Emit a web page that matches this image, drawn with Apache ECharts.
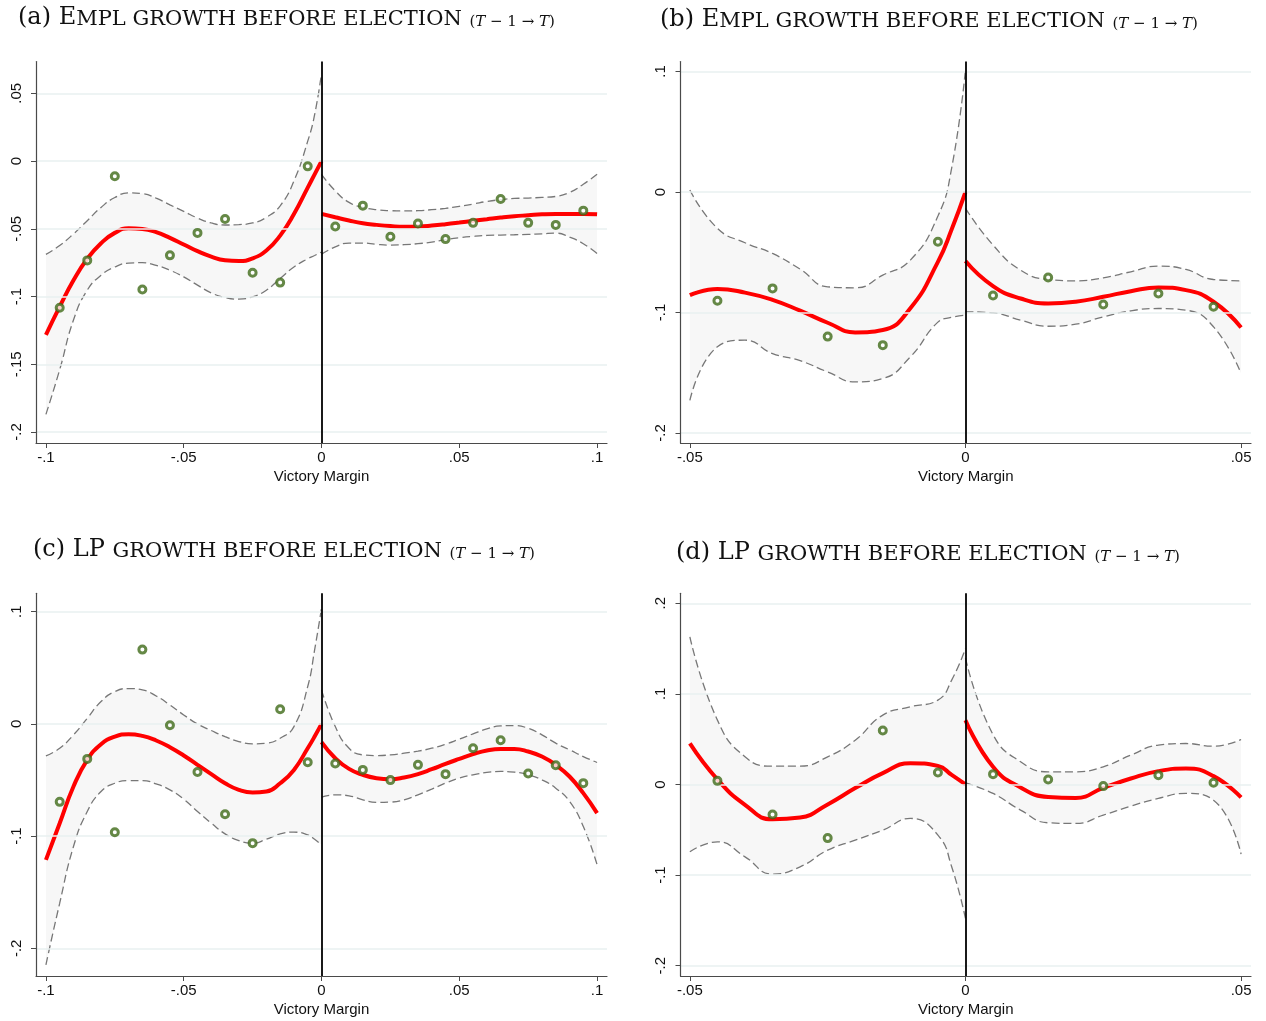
<!DOCTYPE html>
<html>
<head>
<meta charset="utf-8">
<script src="https://cdn.jsdelivr.net/npm/echarts@6/dist/echarts.min.js"></script>
<style>
  html, body { margin: 0; padding: 0; background: #fff; }
  #main { width: 1266px; height: 1021px; }
</style>
</head>
<body>
<div id="main"></div>
<script>
// x positions of the fitted curves and bins
var wideLeftX = [-0.1, -0.095, -0.09, -0.085, -0.08, -0.075, -0.07, -0.065, -0.06, -0.055, -0.05, -0.045, -0.04, -0.035, -0.03, -0.025, -0.02, -0.015, -0.01, -0.005, -0.0025, 0];
var wideRightX = [0, 0.005, 0.01, 0.015, 0.02, 0.025, 0.03, 0.035, 0.04, 0.045, 0.05, 0.055, 0.06, 0.065, 0.07, 0.075, 0.08, 0.085, 0.09, 0.095, 0.1];
var narrowLeftX = [-0.05, -0.045, -0.04, -0.035, -0.03, -0.025, -0.02, -0.015, -0.01, -0.005, -0.0025, 0];
var narrowRightX = [0, 0.005, 0.01, 0.015, 0.02, 0.025, 0.03, 0.035, 0.04, 0.045, 0.05];
var wideBins = [-0.095, -0.085, -0.075, -0.065, -0.055, -0.045, -0.035, -0.025, -0.015, -0.005, 0.005, 0.015, 0.025, 0.035, 0.045, 0.055, 0.065, 0.075, 0.085, 0.095];
var narrowBins = [-0.045, -0.035, -0.025, -0.015, -0.005, 0.005, 0.015, 0.025, 0.035, 0.045];

// tick labels
var wideXTicks = [-0.1, -0.05, 0, 0.05, 0.1];
var narrowXTicks = [-0.05, 0, 0.05];
var aYTicks = [-0.2, -0.15, -0.1, -0.05, 0, 0.05];
var bYTicks = [-0.2, -0.1, 0, 0.1];
var cYTicks = [-0.2, -0.1, 0, 0.1];
var dYTicks = [-0.2, -0.1, 0, 0.1, 0.2];

// (a) Empl growth, bandwidth .1
var aPoints = [-0.1083, -0.0733, -0.0112, -0.0948, -0.0696, -0.053, -0.0428, -0.0824, -0.0897, -0.0039, -0.0483, -0.0329, -0.0559, -0.0461, -0.0576, -0.0456, -0.028, -0.0456, -0.0471, -0.0366];
var aFitL = [-0.1283, -0.1075, -0.088, -0.0721, -0.0606, -0.053, -0.0496, -0.0501, -0.0525, -0.0567, -0.0616, -0.0665, -0.0705, -0.0732, -0.0738, -0.0718, -0.066, -0.055, -0.0391, -0.0196, -0.0098, 0];
var aHiL = [-0.0689, -0.0623, -0.0538, -0.044, -0.0342, -0.0269, -0.0235, -0.024, -0.0274, -0.0323, -0.0371, -0.042, -0.0457, -0.0472, -0.0469, -0.0457, -0.0415, -0.033, -0.0147, 0.0147, 0.0342, 0.0648];
var aLoL = [-0.187, -0.154, -0.1173, -0.0953, -0.0843, -0.0782, -0.0753, -0.075, -0.077, -0.0806, -0.0855, -0.0916, -0.0973, -0.1007, -0.1019, -0.1002, -0.0953, -0.0867, -0.0782, -0.0721, -0.0697, -0.0672];
var aFitR = [-0.039, -0.0415, -0.0439, -0.0459, -0.0471, -0.048, -0.0485, -0.0483, -0.0476, -0.0466, -0.0454, -0.0441, -0.0429, -0.0417, -0.0407, -0.04, -0.0393, -0.039, -0.039, -0.039, -0.0393];
var aHiR = [-0.0098, -0.022, -0.0305, -0.0341, -0.0359, -0.0366, -0.0368, -0.0366, -0.0359, -0.0349, -0.0334, -0.0317, -0.0298, -0.0285, -0.0276, -0.0273, -0.0268, -0.0261, -0.0232, -0.0171, -0.0098];
var aLoR = [-0.0688, -0.0634, -0.0605, -0.0605, -0.0615, -0.062, -0.0617, -0.061, -0.0598, -0.058, -0.0566, -0.0556, -0.0549, -0.0546, -0.0544, -0.0541, -0.0537, -0.0532, -0.0561, -0.061, -0.0683];

// (b) Empl growth, bandwidth .05
var bPoints = [-0.0903, -0.08, -0.12, -0.1271, -0.0413, -0.0859, -0.0709, -0.0934, -0.0842, -0.0953];
var bFitL = [-0.0856, -0.0805, -0.0835, -0.0895, -0.0985, -0.1085, -0.1165, -0.1145, -0.0965, -0.058, -0.031, 0];
var bHiL = [0.0017, -0.0302, -0.0421, -0.051, -0.064, -0.0787, -0.0795, -0.069, -0.0565, -0.02, 0.02, 0.1014];
var bLoL = [-0.1729, -0.1285, -0.123, -0.1341, -0.14, -0.1493, -0.1576, -0.1548, -0.1368, -0.108, -0.104, -0.1022];
var bFitR = [-0.0573, -0.0781, -0.0884, -0.0925, -0.0911, -0.087, -0.0823, -0.0792, -0.0814, -0.0911, -0.1125];
var bHiR = [-0.0136, -0.044, -0.0648, -0.0726, -0.0737, -0.0712, -0.0662, -0.0615, -0.0643, -0.0726, -0.0737];
var bLoR = [-0.0994, -0.1003, -0.1064, -0.1114, -0.1097, -0.1036, -0.0986, -0.0967, -0.0981, -0.1119, -0.1507];

// (c) LP growth, bandwidth .1
var cPoints = [-0.0695, -0.0312, -0.0965, 0.0662, -0.0012, -0.0428, -0.0805, -0.1063, 0.0131, -0.0342, -0.0353, -0.041, -0.0501, -0.0365, -0.0448, -0.0217, -0.0145, -0.0442, -0.0368, -0.0528];
var cFitL = [-0.1212, -0.0885, -0.0558, -0.0321, -0.0181, -0.0113, -0.0092, -0.0107, -0.0148, -0.0208, -0.0282, -0.0365, -0.0448, -0.0529, -0.0588, -0.0612, -0.0603, -0.0529, -0.041, -0.0217, -0.0113, 0];
var cHiL = [-0.0285, -0.0217, -0.0098, 0.005, 0.0199, 0.0288, 0.0315, 0.0303, 0.0249, 0.0169, 0.008, 0, -0.0059, -0.0113, -0.0157, -0.0178, -0.0172, -0.0128, -0.0024, 0.0333, 0.0659, 0.1031];
var cLoL = [-0.2147, -0.1598, -0.1093, -0.0781, -0.0603, -0.0529, -0.0505, -0.0505, -0.0535, -0.0588, -0.0671, -0.0781, -0.0885, -0.098, -0.104, -0.1063, -0.1028, -0.098, -0.0965, -0.0989, -0.1028, -0.1078];
var cFitR = [-0.0163, -0.0306, -0.0401, -0.0454, -0.0484, -0.0493, -0.0478, -0.0448, -0.0404, -0.0356, -0.0312, -0.027, -0.0237, -0.0223, -0.0223, -0.0246, -0.0291, -0.0365, -0.0469, -0.0617, -0.0795];
var cHiR = [0.0303, -0.0024, -0.0217, -0.0276, -0.0282, -0.0276, -0.0261, -0.0243, -0.0217, -0.0181, -0.0136, -0.0089, -0.0045, -0.0018, -0.0015, -0.0039, -0.0098, -0.0172, -0.0231, -0.0291, -0.0344];
var cLoR = [-0.0653, -0.0632, -0.0641, -0.0677, -0.07, -0.0697, -0.0677, -0.0632, -0.0582, -0.0528, -0.0484, -0.0454, -0.0433, -0.0424, -0.043, -0.0454, -0.0499, -0.0573, -0.0691, -0.0914, -0.1255];

// (d) LP growth, bandwidth .05
var dPoints = [0.004, -0.0331, -0.0592, 0.0596, 0.0132, 0.0114, 0.0055, -0.0018, 0.0103, 0.0018];
var dFitL = [0.0453, 0.0055, -0.0225, -0.0385, -0.0365, -0.022, -0.004, 0.0125, 0.0235, 0.0205, 0.0105, 0];
var dHiL = [0.163, 0.071, 0.0305, 0.0202, 0.0202, 0.0305, 0.0489, 0.0765, 0.0857, 0.0931, 0.1152, 0.1501];
var dLoL = [-0.0743, -0.0633, -0.0799, -0.099, -0.0909, -0.0725, -0.0615, -0.0504, -0.0375, -0.0559, -0.0909, -0.1479];
var dFitR = [0.071, 0.0195, -0.0033, -0.0138, -0.0148, -0.0038, 0.0066, 0.0147, 0.0176, 0.0092, -0.0143];
var dHiR = [0.1395, 0.055, 0.025, 0.014, 0.014, 0.0195, 0.0324, 0.0434, 0.0452, 0.0423, 0.0496];
var dLoR = [0.0018, -0.0099, -0.0283, -0.0423, -0.043, -0.0338, -0.0239, -0.0154, -0.0099, -0.0173, -0.0768];

var CAPS_EMPL = 'MPL GROWTH BEFORE ELECTION';
var CAPS_LP = 'GROWTH BEFORE ELECTION';

function titleText(lead, caps) {
  return '{n|' + lead + '}{s|' + caps + '}{n| }{m|(}{i|T}{m| \u2212 1 \u2192 }{i|T}{m|)}';
}

// Stata style number labels: -.05, .1, 0
function fmt(v) {
  var s = String(Math.round(v * 10000) / 10000);
  return s.replace(/^(-?)0\./, '$1.');
}

function zip(xs, ys) {
  return xs.map(function (x, k) { return [x, ys[k]]; });
}

var panels = [
  { title: titleText('(a) E', CAPS_EMPL), tx: 18, ty: 18,
    grid: { left: 36, top: 61.5, width: 571, height: 381.5 },
    xr: [-0.1036, 0.1036], yr: [-0.2081, 0.0735], xTicks: wideXTicks, yTicks: aYTicks,
    bins: wideBins, pts: aPoints,
    sides: [[wideLeftX, aFitL, aHiL, aLoL], [wideRightX, aFitR, aHiR, aLoR]] },
  { title: titleText('(b) E', CAPS_EMPL), tx: 660, ty: 20,
    grid: { left: 680.5, top: 61.5, width: 570.5, height: 381.5 },
    xr: [-0.0517, 0.0518], yr: [-0.2083, 0.1083], xTicks: narrowXTicks, yTicks: bYTicks,
    bins: narrowBins, pts: bPoints,
    sides: [[narrowLeftX, bFitL, bHiL, bLoL], [narrowRightX, bFitR, bHiR, bLoR]] },
  { title: titleText('(c) LP ', CAPS_LP), tx: 33, ty: 550,
    grid: { left: 36, top: 593.3, width: 571, height: 382.7 },
    xr: [-0.1036, 0.1036], yr: [-0.2247, 0.1164], xTicks: wideXTicks, yTicks: cYTicks,
    bins: wideBins, pts: cPoints,
    sides: [[wideLeftX, cFitL, cHiL, cLoL], [wideRightX, cFitR, cHiR, cLoR]] },
  { title: titleText('(d) LP ', CAPS_LP), tx: 676, ty: 553,
    grid: { left: 680.5, top: 593.3, width: 570.5, height: 382.7 },
    xr: [-0.0517, 0.0518], yr: [-0.2114, 0.211], xTicks: narrowXTicks, yTicks: dYTicks,
    bins: narrowBins, pts: dPoints,
    sides: [[narrowLeftX, dFitL, dHiL, dLoL], [narrowRightX, dFitR, dHiR, dLoR]] }
];

var AXIS = '#4a4a4a';
var LABEL_FONT = { fontFamily: 'Liberation Sans', fontSize: 15, color: '#111' };
var titleRich = {
  n: { fontFamily: 'DejaVu Serif', fontSize: 24, color: '#111', verticalAlign: 'bottom' },
  s: { fontFamily: 'DejaVu Serif', fontSize: 21, color: '#111', verticalAlign: 'bottom' },
  m: { fontFamily: 'DejaVu Serif', fontSize: 15, color: '#111', verticalAlign: 'bottom' },
  i: { fontFamily: 'DejaVu Serif', fontSize: 15, fontStyle: 'italic', color: '#111', verticalAlign: 'bottom' }
};

var grids = [], xAxes = [], yAxes = [], series = [], graphics = [];

panels.forEach(function (p, i) {
  grids.push(Object.assign({ outerBoundsMode: 'none', containLabel: false }, p.grid));

  xAxes.push({
    gridIndex: i, type: 'value', min: p.xr[0], max: p.xr[1], z: 10,
    axisLine: { show: true, onZero: false, lineStyle: { color: AXIS, width: 1.2 } },
    axisTick: { show: true, length: 5, customValues: p.xTicks, lineStyle: { color: AXIS } },
    axisLabel: Object.assign({ customValues: p.xTicks, formatter: fmt, margin: 7 }, LABEL_FONT),
    splitLine: { show: false },
    name: 'Victory Margin', nameLocation: 'middle', nameGap: 26,
    nameTextStyle: LABEL_FONT
  });
  yAxes.push({
    gridIndex: i, type: 'value', min: p.yr[0], max: p.yr[1], z: 10,
    axisLine: { show: true, onZero: false, lineStyle: { color: AXIS, width: 1.2 } },
    axisTick: { show: true, length: 5, customValues: p.yTicks, lineStyle: { color: AXIS } },
    axisLabel: Object.assign({ customValues: p.yTicks, formatter: fmt, rotate: 90, margin: 12 }, LABEL_FONT),
    splitLine: { show: false }
  });

  // confidence band: grey area under the upper bound, white area under the lower bound
  p.sides.forEach(function (s) {
    var xs = s[0], hi = s[2], lo = s[3];
    series.push({
      type: 'line', xAxisIndex: i, yAxisIndex: i, data: zip(xs, hi), smooth: true,
      symbol: 'none', silent: true, z: 1, lineStyle: { opacity: 0 },
      areaStyle: { color: '#f7f7f7', opacity: 1, origin: 'start' }
    });
    series.push({
      type: 'line', xAxisIndex: i, yAxisIndex: i, data: zip(xs, lo), smooth: true,
      symbol: 'none', silent: true, z: 1, lineStyle: { opacity: 0 },
      areaStyle: { color: '#ffffff', opacity: 1, origin: 'start' }
    });
  });

  // horizontal grid lines
  series.push({
    type: 'line', xAxisIndex: i, yAxisIndex: i, data: [], z: 2, silent: true,
    markLine: {
      silent: true, symbol: 'none', label: { show: false }, animation: false,
      lineStyle: { color: '#e8f0f1', width: 1.5, type: 'solid' },
      data: p.yTicks.map(function (v) { return { yAxis: v }; })
    }
  });

  p.sides.forEach(function (s) {
    var xs = s[0], fit = s[1], hi = s[2], lo = s[3];
    [hi, lo].forEach(function (band) {
      series.push({
        type: 'line', xAxisIndex: i, yAxisIndex: i, data: zip(xs, band), smooth: true,
        symbol: 'none', silent: true, z: 3,
        lineStyle: { color: '#777777', width: 1.3, type: [8, 4] }
      });
    });
    series.push({
      type: 'line', xAxisIndex: i, yAxisIndex: i, data: zip(xs, fit), smooth: true,
      symbol: 'none', silent: true, z: 4,
      lineStyle: { color: '#ff0000', width: 4 }
    });
  });

  series.push({
    type: 'scatter', xAxisIndex: i, yAxisIndex: i, data: zip(p.bins, p.pts), z: 5,
    symbol: 'circle', symbolSize: 7,
    itemStyle: { color: '#ffffff', borderColor: '#3f6a18', borderWidth: 3 },
    markLine: {
      silent: true, symbol: 'none', label: { show: false }, animation: false,
      lineStyle: { color: '#000', width: 1.8, type: 'solid' },
      data: [{ xAxis: 0 }]
    }
  });

  graphics.push({
    type: 'text', x: p.tx, y: p.ty, z: 10,
    style: { text: p.title, rich: titleRich, align: 'left', verticalAlign: 'middle', fill: '#111' }
  });
});

var myChart = echarts.init(document.getElementById('main'));
myChart.setOption({
  animation: false,
  backgroundColor: '#fff',
  grid: grids,
  xAxis: xAxes,
  yAxis: yAxes,
  series: series,
  graphic: graphics
});
</script>
</body>
</html>
